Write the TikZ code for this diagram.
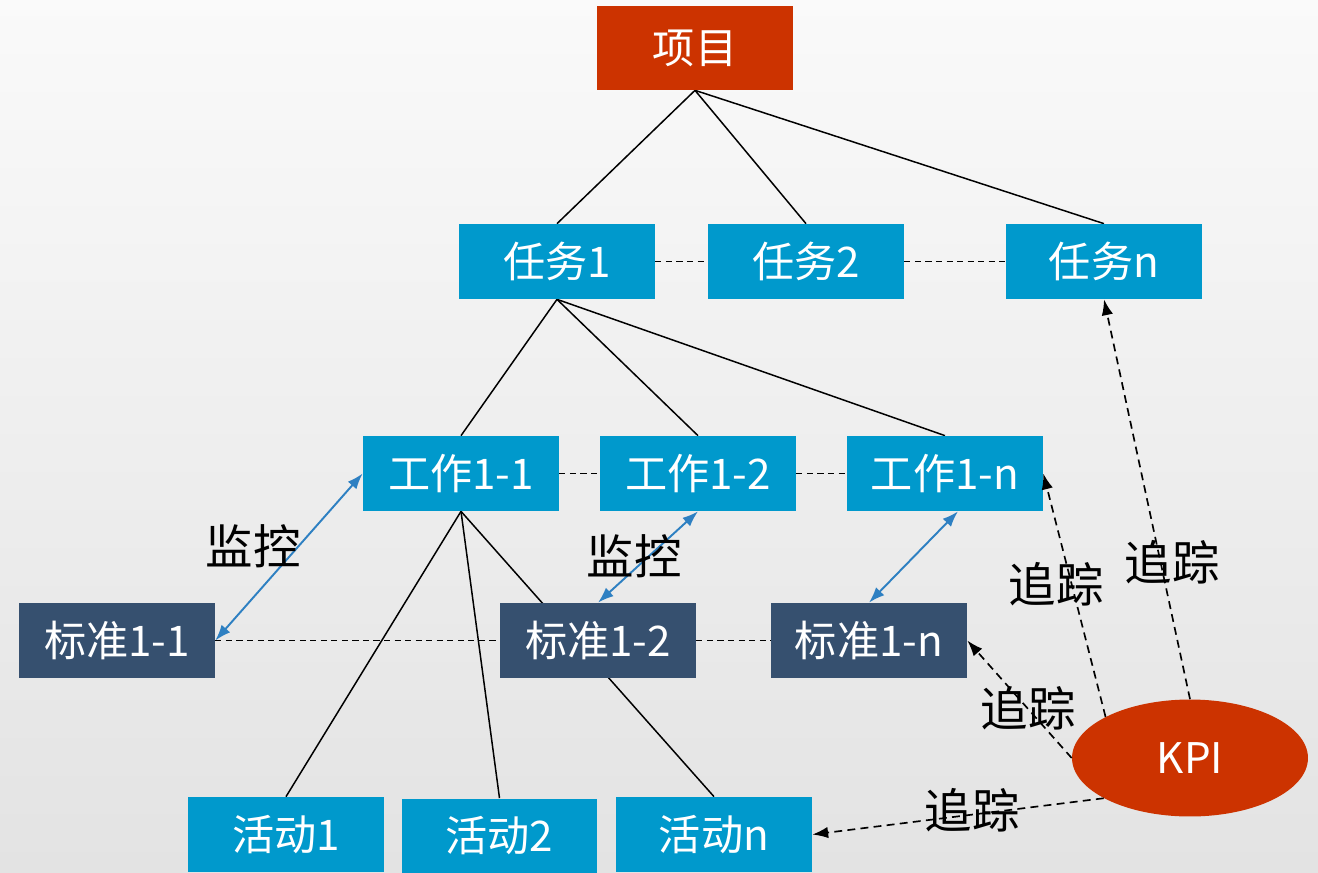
\documentclass[tikz,border=0pt]{standalone}
\usepackage{fontspec}
\setmainfont{Noto Sans CJK SC}
\usetikzlibrary{arrows.meta,shapes.geometric}
\definecolor{xred}{HTML}{CC3300}
\definecolor{xblue}{HTML}{0099CC}
\definecolor{xdark}{HTML}{36506F}
\definecolor{xarrow}{HTML}{2E80C2}
\pgfdeclarelayer{bg}\pgfdeclarelayer{lines}\pgfsetlayers{bg,lines,main}
\tikzset{
  box/.style={rectangle, inner sep=0pt, minimum width=3.92cm, minimum height=1.5cm,
    text=white, font=\fontsize{24pt}{28pt}\selectfont},
  topbox/.style={box, fill=xred, minimum height=1.68cm},
  bluebox/.style={box, fill=xblue},
  darkbox/.style={box, fill=xdark},
  kpibox/.style={ellipse, inner sep=0pt, minimum width=4.72cm, minimum height=2.34cm,
    fill=xred, text=white, font=\fontsize{24pt}{28pt}\selectfont},
  lbl/.style={text=black, font=\fontsize{27pt}{31pt}\selectfont},
  tree/.style={draw=black, line width=0.85pt},
  dashlink/.style={draw=black, line width=0.9pt, dash pattern=on 3.5pt off 2.5pt},
  monitor/.style={draw=xarrow, line width=1.1pt, {Latex[length=9pt,width=6.5pt]}-{Latex[length=9pt,width=6.5pt]}},
  track/.style={draw=black, line width=0.95pt, dash pattern=on 4.5pt off 3pt, -{Latex[length=9pt,width=6.5pt]}}
}
\begin{document}
\begin{tikzpicture}[x=0.02cm,y=-0.02cm]
\begin{pgfonlayer}{bg}
\fill[top color=gray!4, bottom color=gray!22] (0,0) rectangle (1318,872);
\end{pgfonlayer}
\useasboundingbox (0,0) rectangle (1318,872);

\node[topbox] (xm) at (695,48) {项目};
\node[bluebox] (r1) at (557,261.5) {任务1};
\node[bluebox] (r2) at (806,261.5) {任务2};
\node[bluebox] (rn) at (1104,261.5) {任务n};
\node[bluebox] (w1) at (461,473.5) {工作1-1};
\node[bluebox] (w2) at (698,473.5) {工作1-2};
\node[bluebox] (wn) at (945,473.5) {工作1-n};
\node[darkbox] (b1) at (117,640.5) {标准1-1};
\node[darkbox] (b2) at (598,640.5) {标准1-2};
\node[darkbox] (bn) at (869,640.5) {标准1-n};
\node[bluebox] (h1) at (286,834.5) {活动1};
\node[bluebox] (h2) at (499.5,836) {活动2};
\node[bluebox] (hn) at (714,834.5) {活动n};
\node[kpibox] (kpi) at (1190,758) {KPI};

\begin{pgfonlayer}{lines}
\draw[tree] (xm.south) -- (r1.north);
\draw[tree] (xm.south) -- (r2.north);
\draw[tree] (xm.south) -- (rn.north);
\draw[tree] (r1.south) -- (w1.north);
\draw[tree] (r1.south) -- (w2.north);
\draw[tree] (r1.south) -- (wn.north);
\draw[tree] (w1.south) -- (h1.north);
\draw[tree] (w1.south) -- (h2.north);
\draw[tree] (w1.south) -- (hn.north);
\draw[dashlink] (r1.east) -- (r2.west);
\draw[dashlink] (r2.east) -- (rn.west);
\draw[dashlink] (w1.east) -- (w2.west);
\draw[dashlink] (w2.east) -- (wn.west);
\draw[dashlink] (b1.east) -- (b2.west);
\draw[dashlink] (b2.east) -- (bn.west);
\end{pgfonlayer}

\draw[monitor] (b1.east) -- (w1.west);
\draw[monitor] (b2.north) -- (w2.south);
\draw[monitor] (bn.north) -- ([xshift=0.26cm]wn.south);

\draw[track] (kpi.north) -- (rn.south);
\draw[track] (kpi.154.5) -- (wn.east);
\draw[track] (kpi.west) -- (bn.east);
\draw[track] (kpi.205.5) -- (hn.east);

\node[lbl] (m1) at (253,546) {监控};
\node[lbl] (m2) at (634,556) {监控};
\node[lbl] (t1) at (1172,562) {追踪};
\node[lbl] (t2) at (1056,584) {追踪};
\node[lbl] (t3) at (1028,708) {追踪};
\node[lbl] (t4) at (972,810) {追踪};
\end{tikzpicture}
\end{document}
